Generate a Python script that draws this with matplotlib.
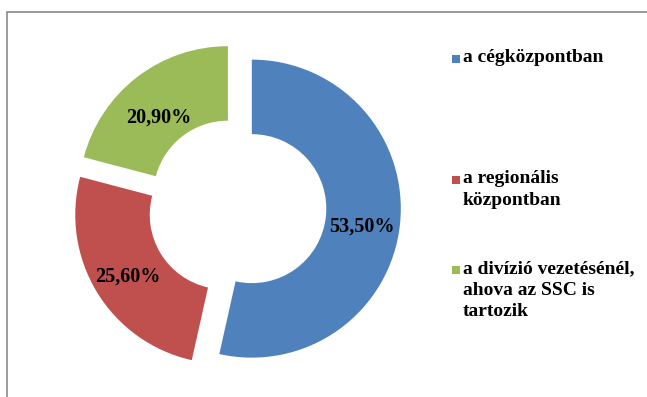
import matplotlib.pyplot as plt
from matplotlib.patches import Rectangle

labels = ["a cégközpontban", "a regionális\nközpontban",
          "a divízió vezetésénél,\nahova az SSC is\ntartozik"]
values = [53.5, 25.6, 20.9]
colors = ["#4F81BD", "#C0504D", "#9BBB59"]

W, H = 647, 397
fig = plt.figure(figsize=(W / 100, H / 100), dpi=100)

# frame around the chart area (only top and left visible in the screenshot)
fig.add_artist(Rectangle((7 / W, -0.05), 1.1, 1 - 12 / H + 0.05,
                         transform=fig.transFigure, fill=False,
                         edgecolor="#8a8a8a", linewidth=1.2))

# donut: centre at (237, 207) px from top-left, radius 149 px
R = 149
cx, cy = 237, H - 207
half = 1.3 * R
ax = fig.add_axes([(cx - half) / W, (cy - half) / H, 2 * half / W, 2 * half / H])
wedges, texts, autotexts = ax.pie(
    values, colors=colors, startangle=90, counterclock=False,
    explode=[0.1, 0.1, 0.1], radius=1,
    wedgeprops=dict(width=0.5, edgecolor="white", linewidth=0),
    autopct=lambda p: f"{p:.2f}%".replace(".", ","), pctdistance=0.74,
    textprops=dict(fontfamily="Liberation Serif", fontweight="bold",
                   fontsize=14.5, color="black"))
# nudge the percentage labels a little to sit where Excel put them
nudges = [(0.0, -0.04), (-0.013, -0.03), (-0.013, -0.065)]
for t, (dx, dy) in zip(autotexts, nudges):
    x, y = t.get_position()
    t.set_position((x + dx, y + dy))
ax.set_xlim(-1.3, 1.3)
ax.set_ylim(-1.3, 1.3)
ax.set_aspect("equal")
ax.axis("off")

# legend drawn by hand to match uneven spacing
legend_y = [59, 180, 270]
for lab, col, y in zip(labels, colors, legend_y):
    fig.add_artist(Rectangle((452 / W, 1 - (y + 4) / H), 8 / W, 8 / H,
                             transform=fig.transFigure, facecolor=col,
                             edgecolor="none"))
    fig.text(463 / W, 1 - (y - 10) / H, lab, ha="left", va="top",
             fontfamily="Liberation Serif", fontweight="bold", fontsize=14,
             linespacing=1.35)

fig.savefig("out.png", dpi=100)
